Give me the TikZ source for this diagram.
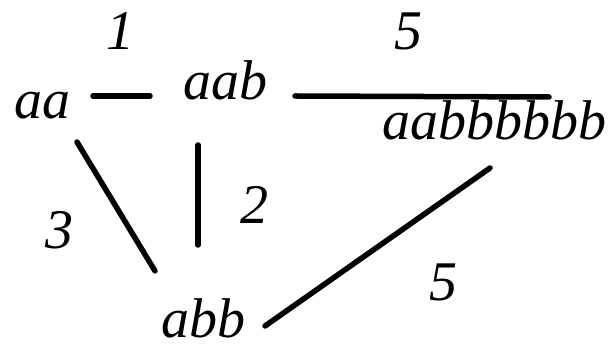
\documentclass[tikz,border=0pt]{standalone}
\usepackage{fontspec}
\setmainfont{Liberation Serif}
\usetikzlibrary{calc}

\begin{document}
\begin{tikzpicture}[x=1pt,y=1pt,
word/.style={inner sep=0pt,anchor=base,font=\fontsize{56}{60}\selectfont\itshape},
wt/.style={word},
link/.style={line width=5.5pt,line cap=round}]
\useasboundingbox (0,0) rectangle (612,347);
% strings
\node[word] (aa) at (42,228) {aa};
\node[word] (aab) at (225,247) {aab};
\node[word] (aabbbbbb) at (494,207) {aabbbbbb};
\node[word] (abb) at (203,9) {abb};
% weights
\node[wt] (w1) at (120,297) {1};
\node[wt] (w5a) at (408,297) {5};
\node[wt] (w3) at (59,98) {3};
\node[wt] (w2) at (254,123) {2};
\node[wt] (w5b) at (443,46) {5};
% edges
\draw[link] ([shift={(51,23)}]aa.base) -- ([shift={(-75,4)}]aab.base);
\draw[link] ([shift={(70,4)}]aab.base) -- ([shift={(55,43)}]aabbbbbb.base);
\draw[link] ([shift={(35,-23)}]aa.base) -- ([shift={(-48,67)}]abb.base);
\draw[link] ([shift={(-27,-45)}]aab.base) -- ([shift={(-5,93)}]abb.base);
\draw[link] ([shift={(-4,-28)}]aabbbbbb.base) -- ([shift={(62,12)}]abb.base);
\end{tikzpicture}
\end{document}
